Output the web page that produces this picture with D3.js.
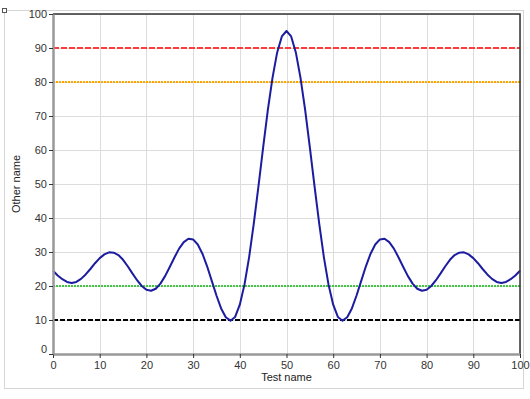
<!DOCTYPE html>
<html>
<head>
<meta charset="utf-8">
<script src="https://cdn.jsdelivr.net/npm/d3@7"></script>
<style>
  body { margin: 0; background: #fff; }
  svg { display: block; font-family: "Liberation Sans", Arial, sans-serif; }
</style>
</head>
<body>
<svg id="chart" width="530" height="399"></svg>
<script>
// values, x = 0..100 step 1
var xs = d3.range(0, 101)
var ys = [24.5, 23.1, 22.0, 21.2, 20.9, 21.2, 22.1, 23.4, 25.0, 26.7,
  28.2, 29.3, 29.9, 29.8, 29.1, 27.7, 25.8, 23.7, 21.7, 20.0,
  18.9, 18.6, 19.2, 20.7, 22.9, 25.6, 28.4, 31.0, 32.9, 33.9,
  33.7, 32.2, 29.5, 25.8, 21.5, 17.2, 13.4, 10.8, 9.8, 10.9,
  14.5, 20.4, 28.5, 38.4, 49.4, 60.8, 71.7, 81.2, 88.7, 93.4,
  95.0,
  93.4, 88.7, 81.2, 71.7, 60.8, 49.4, 38.4, 28.5, 20.4, 14.5,
  10.9, 9.8, 10.8, 13.4, 17.2, 21.5, 25.8, 29.5, 32.2, 33.7,
  33.9, 32.9, 31.0, 28.4, 25.6, 22.9, 20.7, 19.2, 18.6, 18.9,
  20.0, 21.7, 23.7, 25.8, 27.7, 29.1, 29.8, 29.9, 29.3, 28.2,
  26.7, 25.0, 23.4, 22.1, 21.2, 20.9, 21.2, 22.0, 23.1, 24.5]
var limitValues = [90, 80, 20, 10]
var limitColors = ["#ff3b3b", "#ffa500", "#44c444", "#000000"]
var limitDash = ["6,2", "2,1", "2,1", "5,2"]
var xTicks = d3.range(0, 101, 10)
var yTicks = d3.range(0, 101, 10)
var xTitle = "Test name"
var yTitle = "Other name"

var pL = 53, pT = 14, pR = 520, pB = 354
var svg = d3.select("#chart")

// dotted outer frame
svg.append("rect")
  .attr("x", 4.5).attr("y", 10.5)
  .attr("width", 519).attr("height", 378)
  .attr("fill", "none")
  .attr("stroke", "#aaa")
  .attr("stroke-dasharray", "1,1")
svg.append("rect")
  .attr("x", 2.5).attr("y", 8.5)
  .attr("width", 4).attr("height", 4)
  .attr("fill", "#fff").attr("stroke", "#555")

var x = d3.scaleLinear().domain([0, 100]).range([pL, pR])
var y = d3.scaleLinear().domain([0, 100]).range([pB, pT])

// grid
svg.append("g").selectAll("line").data(xTicks.slice(1)).enter()
  .append("line")
  .attr("x1", d => Math.round(x(d)) + 0.5).attr("x2", d => Math.round(x(d)) + 0.5)
  .attr("y1", pT).attr("y2", pB)
  .attr("stroke", "#dcdcdc")
svg.append("g").selectAll("line").data(yTicks.slice(1)).enter()
  .append("line")
  .attr("y1", d => Math.round(y(d)) + 0.5).attr("y2", d => Math.round(y(d)) + 0.5)
  .attr("x1", pL).attr("x2", pR)
  .attr("stroke", "#dcdcdc")

// limit lines
svg.append("g").selectAll("line").data(limitValues).enter()
  .append("line")
  .attr("x1", pL).attr("x2", pR)
  .attr("y1", d => y(d)).attr("y2", d => y(d))
  .attr("stroke", (d, i) => limitColors[i])
  .attr("stroke-width", 2)
  .attr("stroke-dasharray", (d, i) => limitDash[i])

// curve
var line = d3.line()
  .x((d, i) => x(xs[i]))
  .y(d => y(d))
svg.append("path")
  .datum(ys)
  .attr("d", line)
  .attr("fill", "none")
  .attr("stroke", "#1c1ca0")
  .attr("stroke-width", 2)
  .attr("stroke-linejoin", "round")

// top and right border
svg.append("path")
  .attr("d", "M" + pL + "," + pT + "H" + pR + "V" + pB)
  .attr("fill", "none")
  .attr("stroke", "#333")
  .attr("stroke-width", 1.5)

// axes
var xAxis = svg.append("g")
  .attr("transform", "translate(0," + pB + ")")
  .call(d3.axisBottom(x).tickValues(xTicks).tickSize(4).tickSizeOuter(0).tickPadding(2))
var yAxis = svg.append("g")
  .attr("transform", "translate(" + pL + ",0)")
  .call(d3.axisLeft(y).tickValues(yTicks).tickSize(4).tickSizeOuter(0).tickPadding(2))
;[xAxis, yAxis].forEach(function(a){
  a.select(".domain").attr("stroke", "#999").attr("stroke-width", 2.5)
  a.selectAll(".tick line").attr("stroke", "#333")
  a.selectAll(".tick text").attr("fill", "#333").style("font-size", "11px")
})
xAxis.selectAll(".tick text").attr("dy", "0.8em")
yAxis.selectAll(".tick text").filter(d => d == 0).attr("dy", "-0.1em")

// titles
svg.append("text")
  .attr("x", (pL + pR) / 2).attr("y", 381)
  .attr("text-anchor", "middle")
  .attr("fill", "#222")
  .style("font-size", "11px")
  .text(xTitle)
svg.append("text")
  .attr("transform", "translate(20," + (pT + pB) / 2 + ") rotate(-90)")
  .attr("text-anchor", "middle")
  .attr("fill", "#222")
  .style("font-size", "11px")
  .text(yTitle)
</script>
</body>
</html>
